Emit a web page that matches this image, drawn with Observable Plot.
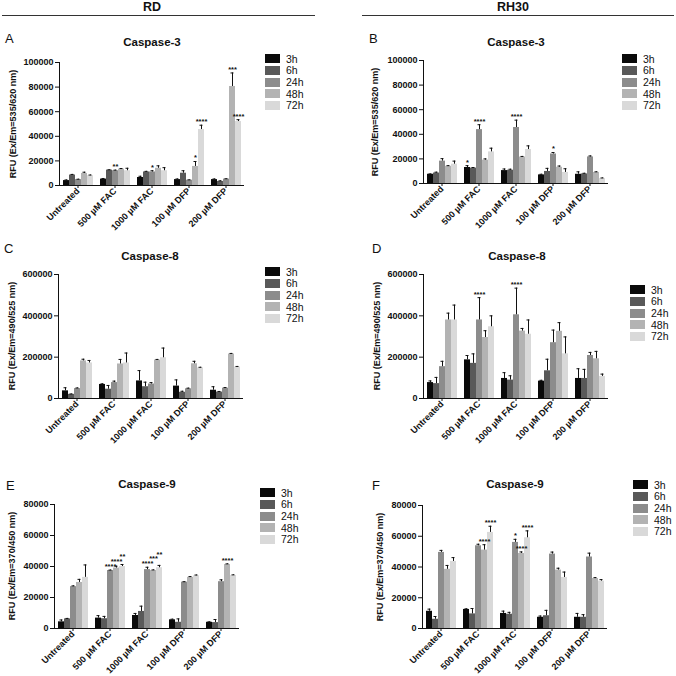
<!DOCTYPE html>
<html><head><meta charset="utf-8">
<script src="https://cdn.jsdelivr.net/npm/d3@7"></script>
<script src="https://cdn.jsdelivr.net/npm/@observablehq/plot@0.6"></script>
<style>
body{margin:0;background:#fff;}
#fig{position:relative;width:676px;height:676px;font-family:"Liberation Sans",Arial,sans-serif;color:#111;overflow:hidden;background:#fff;}
.abs{position:absolute;white-space:nowrap;line-height:1;}
.hdr{font-weight:bold;font-size:12.5px;transform:translate(-50%,-50%);}
.hrule{position:absolute;height:1px;background:#333;}
.letter{font-size:13px;transform:translateY(-50%);}
.title{font-weight:bold;font-size:11.5px;transform:translate(-50%,-50%);}
.ylab{font-weight:bold;font-size:9px;transform:translate(-50%,-50%) rotate(-90deg);}
.legend .row{display:flex;align-items:center;height:11.7px;font-size:10.5px;}
.legend .sw{width:15px;height:9px;margin-right:6px;}
.panel{position:absolute;}
</style></head>
<body>
<div id="fig"></div>
<script>
// ---------- data ----------
const groups = ["Untreated", "500 µM FAC", "1000 µM FAC", "100 µM DFP", "200 µM DFP"];
const times = ["3h", "6h", "24h", "48h", "72h"];
const shades = ["#0a0a0a", "#595959", "#8c8c8c", "#b3b3b3", "#d9d9d9"];

const ticksC3 = [0, 20000, 40000, 60000, 80000, 100000];
const ticksC8 = [0, 200000, 400000, 600000];
const ticksC9 = [0, 20000, 40000, 60000, 80000];

// rows: 3h, 6h, 24h, 48h, 72h ; columns follow groups
const A_mean = [
  [4000, 5200, 6500, 4800, 4800],
  [8500, 12500, 11000, 10000, 3300],
  [4800, 12000, 11000, 4300, 5200],
  [9800, 13300, 14000, 15500, 80500],
  [8000, 12000, 12000, 45500, 52000]];
const A_sem = [
  [500, 500, 1000, 500, 500],
  [500, 300, 500, 2000, 500],
  [300, 500, 1000, 300, 300],
  [1000, 500, 2000, 4000, 11000],
  [500, 2000, 2500, 3500, 1500]];
const A_stars = [["500 µM FAC", "24h", "**"], ["1000 µM FAC", "24h", "*"], ["100 µM DFP", "48h", "*"],
  ["100 µM DFP", "72h", "****"], ["200 µM DFP", "48h", "***"], ["200 µM DFP", "72h", "****"]];

const B_mean = [
  [7500, 13000, 10500, 7000, 7500],
  [8500, 12500, 10800, 9800, 7800],
  [18200, 43800, 45500, 24000, 21600],
  [14000, 19000, 21500, 13200, 9000],
  [15700, 25700, 27600, 9000, 4000]];
const B_sem = [
  [300, 1500, 1300, 500, 2000],
  [700, 500, 800, 2500, 500],
  [2000, 4000, 6000, 1200, 800],
  [500, 1000, 500, 1000, 500],
  [2500, 3000, 3000, 3000, 500]];
const B_stars = [["500 µM FAC", "3h", "*"], ["500 µM FAC", "24h", "****"], ["1000 µM FAC", "24h", "****"],
  ["100 µM DFP", "24h", "*"]];

const C_mean = [
  [37000, 68000, 85000, 60000, 40000],
  [20000, 45000, 57000, 30000, 31000],
  [48000, 77000, 70000, 47000, 50000],
  [182000, 167000, 186000, 168000, 215000],
  [172000, 172000, 197000, 148000, 152000]];
const C_sem = [
  [15000, 3000, 50000, 30000, 17000],
  [2000, 18000, 22000, 5000, 3000],
  [3000, 7000, 7000, 3000, 3000],
  [8000, 22000, 3000, 12000, 3000],
  [12000, 48000, 47000, 3000, 3000]];
const C_stars = [];

const D_mean = [
  [77000, 187000, 97000, 84000, 97000],
  [72000, 170000, 89000, 134000, 97000],
  [154000, 380000, 405000, 270000, 208000],
  [380000, 295000, 326000, 325000, 192000],
  [380000, 347000, 311000, 216000, 107000]];
const D_sem = [
  [8000, 21000, 28000, 4000, 47000],
  [30000, 46000, 21000, 56000, 44000],
  [26000, 108000, 129000, 61000, 15000],
  [33000, 33000, 13000, 42000, 36000],
  [72000, 53000, 69000, 82000, 11000]];
const D_stars = [["500 µM FAC", "24h", "****"], ["1000 µM FAC", "24h", "****"]];

const E_mean = [
  [4300, 6700, 8400, 5600, 4000],
  [6200, 6300, 11000, 4000, 3800],
  [27000, 37400, 38000, 29900, 30200],
  [29700, 39000, 37400, 33000, 41300],
  [33000, 40000, 39200, 34000, 34200]];
const E_sem = [
  [1200, 1600, 1300, 400, 300],
  [300, 1500, 3400, 2200, 2000],
  [500, 300, 1500, 300, 1200],
  [2000, 1200, 400, 500, 400],
  [8000, 1300, 1500, 500, 400]];
const E_stars = [["500 µM FAC", "24h", "****"], ["500 µM FAC", "48h", "****"], ["500 µM FAC", "72h", "**"],
  ["1000 µM FAC", "24h", "****"], ["1000 µM FAC", "48h", "***"], ["1000 µM FAC", "72h", "**"],
  ["200 µM DFP", "48h", "****"]];

const F_mean = [
  [11200, 12400, 9800, 7300, 7300],
  [6000, 9500, 9300, 8300, 7300],
  [49500, 53800, 56000, 48400, 46500],
  [38500, 51000, 48800, 38000, 32500],
  [43600, 62500, 59000, 33200, 30800]];
const F_sem = [
  [1400, 400, 1500, 800, 2500],
  [1800, 3500, 1200, 3500, 1700],
  [1300, 1000, 2000, 1300, 2500],
  [2500, 3500, 1000, 1200, 600],
  [2500, 4000, 4500, 3500, 1000]];
const F_stars = [["500 µM FAC", "48h", "****"], ["500 µM FAC", "72h", "****"], ["1000 µM FAC", "24h", "*"],
  ["1000 µM FAC", "48h", "****"], ["1000 µM FAC", "72h", "****"]];

// ---------- layout ----------
const panels = [
  {letter: "A", title: "Caspase-3", ylab: "RFU (Ex/Em=535/620 nm)", mean: A_mean, sem: A_sem, stars: A_stars, max: 100000, ticks: ticksC3,
   left: 0, top: 50, mL: 58, mT: 12, pw: 187, ph: 123, lx: 5, ly: 38, tx: 152, ty: 43, yx: 12.5, legX: 265, legY: 53},
  {letter: "B", title: "Caspase-3", ylab: "RFU (Ex/Em=535/620 nm)", mean: B_mean, sem: B_sem, stars: B_stars, max: 100000, ticks: ticksC3,
   left: 340, top: 48, mL: 82, mT: 12, pw: 186, ph: 123, lx: 369, ly: 38, tx: 516, ty: 43, yx: 375, legX: 622, legY: 53},
  {letter: "C", title: "Caspase-8", ylab: "RFU (Ex/Em=490/525 nm)", mean: C_mean, sem: C_sem, stars: C_stars, max: 600000, ticks: ticksC8,
   left: 0, top: 262, mL: 58, mT: 12, pw: 185, ph: 124, lx: 4, ly: 248, tx: 150, ty: 257, yx: 12, legX: 265, legY: 266},
  {letter: "D", title: "Caspase-8", ylab: "RFU (Ex/Em=490/525 nm)", mean: D_mean, sem: D_sem, stars: D_stars, max: 600000, ticks: ticksC8,
   left: 340, top: 262, mL: 82, mT: 12, pw: 186, ph: 124, lx: 372, ly: 248, tx: 517, ty: 257, yx: 377, legX: 630, legY: 284},
  {letter: "E", title: "Caspase-9", ylab: "RFU (Ex/Em=370/450 nm)", mean: E_mean, sem: E_sem, stars: E_stars, max: 80000, ticks: ticksC9,
   left: 0, top: 492, mL: 53, mT: 12, pw: 187, ph: 124, lx: 6, ly: 485, tx: 147, ty: 485, yx: 12, legX: 260, legY: 487},
  {letter: "F", title: "Caspase-9", ylab: "RFU (Ex/Em=370/450 nm)", mean: F_mean, sem: F_sem, stars: F_stars, max: 80000, ticks: ticksC9,
   left: 340, top: 493, mL: 80, mT: 12, pw: 188, ph: 123, lx: 372, ly: 485, tx: 515, ty: 485, yx: 380, legX: 633, legY: 479}
];

const fig = document.getElementById("fig");
function addDiv(cls, text, x, y, extra) {
  const d = document.createElement("div");
  d.className = "abs " + cls;
  d.textContent = text;
  d.style.left = x + "px";
  d.style.top = y + "px";
  if (extra) Object.assign(d.style, extra);
  fig.appendChild(d);
  return d;
}

// column headers
addDiv("hdr", "RD", 152, 7);
addDiv("hdr", "RH30", 513, 7);
const r1 = document.createElement("div"); r1.className = "hrule";
Object.assign(r1.style, {left: "2px", top: "15px", width: "313px"}); fig.appendChild(r1);
const r2 = document.createElement("div"); r2.className = "hrule";
Object.assign(r2.style, {left: "362px", top: "15px", width: "312px"}); fig.appendChild(r2);

function buildRows(mean, sem, stars, pxPerUnit) {
  const out = [];
  groups.forEach((g, gi) => {
    let prevPx = -Infinity;
    times.forEach((t, ti) => {
      const s = stars.find(s => s[0] === g && s[1] === t);
      const row = {group: g, time: t, value: mean[ti][gi], err: sem[ti][gi], star: s ? s[2] : "", starY: null};
      if (s) {
        // stagger neighbouring significance labels so they step upward like in the figure
        const topPx = (row.value + row.err) * pxPerUnit + 5.5;
        const px = Math.abs(topPx - prevPx) < 4.8 ? prevPx + 4.8 : topPx;
        prevPx = px;
        row.starY = px / pxPerUnit;
      }
      out.push(row);
    });
  });
  return out;
}

for (const p of panels) {
  const data = buildRows(p.mean, p.sem, p.stars, p.ph / p.max);
  const mR = 6, mB = 60;
  const chart = Plot.plot({
    width: p.mL + p.pw + mR,
    height: p.mT + p.ph + mB,
    marginLeft: p.mL, marginRight: mR, marginTop: p.mT, marginBottom: mB,
    style: {fontFamily: "'Liberation Sans', Arial, sans-serif", fontSize: "9px", fontWeight: "bold",
            color: "#111", background: "transparent", overflow: "visible"},
    facet: {data, x: "group", marginTop: 0, marginBottom: 0, marginLeft: 0, marginRight: 0},
    fx: {domain: groups, padding: 0, axis: "bottom", tickRotate: -45, tickSize: 3, tickPadding: 1, label: null},
    x: {domain: times, paddingInner: 0, paddingOuter: 0.38, axis: null},
    y: {domain: [0, p.max], ticks: p.ticks, tickFormat: d => String(d), tickSize: 4, tickPadding: 2, line: true, label: null},
    color: {domain: times, range: shades},
    marks: [
      Plot.barY(data, {x: "time", y: "value", fill: "time"}),
      Plot.ruleX(data, {x: "time", y1: "value", y2: d => d.value + d.err, stroke: "#111", strokeWidth: 1}),
      Plot.tickY(data, {x: "time", y: d => d.value + d.err, stroke: "#111", strokeWidth: 1, insetLeft: 1.5, insetRight: 1.5}),
      Plot.text(data, {filter: d => d.star !== "", x: "time", y: "starY", text: "star",
                       lineAnchor: "middle", dy: 2, fontSize: 7.5, fill: "#111"}),
      Plot.ruleY([0], {stroke: "#111", strokeWidth: 1.2})
    ]
  });
  chart.classList.add("panel");
  chart.style.left = p.left + "px";
  chart.style.top = p.top + "px";
  fig.appendChild(chart);

  addDiv("letter", p.letter, p.lx, p.ly);
  addDiv("title", p.title, p.tx, p.ty);
  addDiv("ylab", p.ylab, p.yx, p.top + p.mT + p.ph / 2);

  const leg = document.createElement("div");
  leg.className = "abs legend";
  leg.style.left = p.legX + "px";
  leg.style.top = p.legY + "px";
  times.forEach((t, i) => {
    const row = document.createElement("div"); row.className = "row";
    const sw = document.createElement("div"); sw.className = "sw"; sw.style.background = shades[i];
    const lab = document.createElement("span"); lab.textContent = t;
    row.appendChild(sw); row.appendChild(lab); leg.appendChild(row);
  });
  fig.appendChild(leg);
}
</script>
</body></html>
